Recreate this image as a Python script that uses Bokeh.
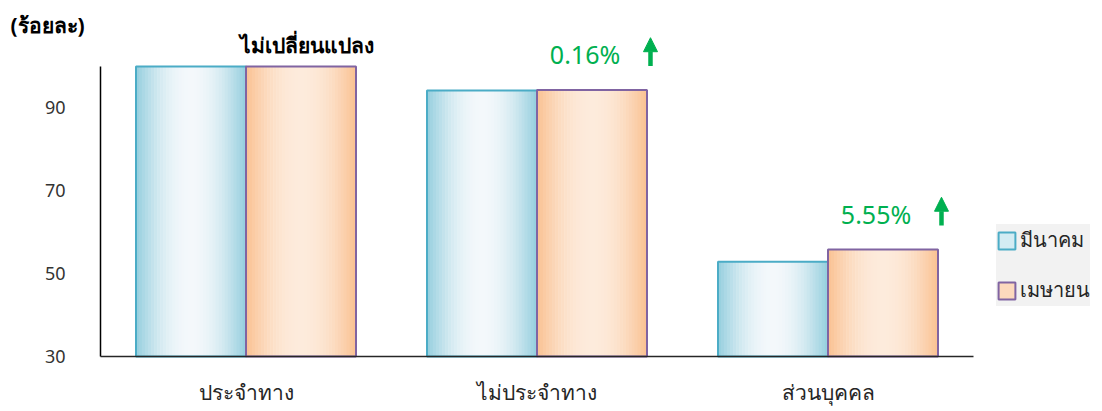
import numpy as np
from bokeh.plotting import figure
from bokeh.models import Range1d, Arrow, NormalHead, Legend, LegendItem
from bokeh.core.properties import value
from bokeh.embed import file_html
from bokeh.resources import INLINE

# ---- data ----
categories = ["ประจำทาง", "ไม่ประจำทาง", "ส่วนบุคคล"]
series_names = ["มีนาคม", "เมษายน"]
march = [100.0, 94.2, 52.9]
april = [100.0, 94.35, 55.84]
change_labels = ["ไม่เปลี่ยนแปลง", "0.16%", "5.55%"]
change_up = [False, True, True]
y_ticks = [30, 50, 70, 90]
y_axis_min, y_axis_max = 30, 100
unit_label = "(ร้อยละ)"

FONT = "Noto Sans"
GREEN = "#00B050"

W, H = 1100, 410
PX_X = 291.0          # pixels per category
PX_Y = 290.0 / 70.0   # pixels per y unit
AX_LEFT = 100         # pixel x of y axis
AX_BOTTOM = 356       # pixel y of x axis

x_start = -AX_LEFT / PX_X
x_end = (W - AX_LEFT) / PX_X
y_start = y_axis_min - (H - AX_BOTTOM) / PX_Y
y_end = y_axis_min + AX_BOTTOM / PX_Y

p = figure(width=W, height=H, output_backend="svg", toolbar_location=None,
           x_range=Range1d(x_start, x_end), y_range=Range1d(y_start, y_end),
           x_axis_location=None, y_axis_location=None,
           min_border_left=0, min_border_right=0, min_border_top=0,
           min_border_bottom=0)
p.outline_line_color = None
p.xgrid.visible = False
p.ygrid.visible = False
p.background_fill_color = "white"
p.border_fill_color = "white"


def hex2rgb(h):
    h = h.lstrip("#")
    return np.array([int(h[i:i + 2], 16) for i in (0, 2, 4)], dtype=float)


def blend(c1, c2, f):
    a, b = hex2rgb(c1), hex2rgb(c2)
    c = a + (b - a) * f
    return "#%02x%02x%02x" % tuple(int(round(v)) for v in c)


bar_w = 0.378
N = 36
styles = [
    (march, "#92CDDD", "#F4F8FB", "#4BACC6"),
    (april, "#FAC090", "#FDEBDC", "#8064A2"),
]

xs, tops, cols = [], [], []
for s, (vals, edge, mid, _) in enumerate(styles):
    for i, v in enumerate(vals):
        center = i + 0.5 + (s - 0.5) * bar_w
        left = center - bar_w / 2
        for k in range(N):
            t = (k + 0.5) / N
            f = np.sin(np.pi * t) ** 0.9
            xs.append(left + t * bar_w)
            tops.append(v)
            cols.append(blend(edge, mid, f))
p.vbar(x=xs, top=tops, bottom=y_axis_min, width=bar_w / N * 1.15,
       fill_color=cols, line_color=None)

for s, (vals, edge, mid, outline) in enumerate(styles):
    centers = [i + 0.5 + (s - 0.5) * bar_w for i in range(len(vals))]
    p.vbar(x=centers, top=vals, bottom=y_axis_min, width=bar_w,
           fill_color=None, line_color=outline, line_width=2)

# axes drawn by hand
p.segment(x0=[0], y0=[y_axis_min], x1=[0], y1=[y_axis_max],
          line_color="#000000", line_width=1.5)
p.segment(x0=[0], y0=[y_axis_min], x1=[len(categories)], y1=[y_axis_min],
          line_color="#262626", line_width=1.5)
p.text(x=[0] * len(y_ticks), y=y_ticks, text=[str(t) for t in y_ticks],
       x_offset=-35, text_align="right", text_baseline="middle",
       text_font=value(FONT), text_font_size="18px", text_color="#333333")
p.text(x=[i + 0.5 for i in range(len(categories))],
       y=[y_axis_min] * len(categories), text=categories, y_offset=35,
       text_align="center", text_baseline="middle", text_font=value(FONT),
       text_font_size="21px", text_color="#262626")
p.text(x=[0], y=[y_axis_max], text=[unit_label], x_offset=-53, y_offset=-42,
       text_align="center", text_baseline="middle", text_font=value(FONT),
       text_font_size="21px", text_font_style="bold", text_color="#000000")

# annotations
for i, (lab, up) in enumerate(zip(change_labels, change_up)):
    v = april[i]
    if not up:
        p.text(x=[i + 0.5 + 0.21], y=[v + 5.1], text=[lab],
               text_align="center", text_baseline="middle",
               text_font=value(FONT), text_font_size="21px",
               text_font_style="bold", text_color="#000000")
    else:
        p.text(x=[i + 0.5 + 0.165], y=[v + 8.6], text=[lab],
               text_align="center", text_baseline="middle",
               text_font=value(FONT), text_font_size="25px",
               text_color=GREEN)
        p.add_layout(Arrow(end=NormalHead(size=14, fill_color=GREEN,
                                          line_color=GREEN, line_width=1),
                           x_start=i + 0.5 + 0.39, y_start=v + 5.8,
                           x_end=i + 0.5 + 0.39, y_end=v + 12.6,
                           line_color=GREEN, line_width=4.5))

# legend
r_m = p.vbar(x=[np.nan], top=[np.nan], width=0.1, fill_color="#d3ecf3",
             line_color="#4BACC6", line_width=2)
r_a = p.vbar(x=[np.nan], top=[np.nan], width=0.1, fill_color="#fcd9bd",
             line_color="#8064A2", line_width=2)
legend = Legend(items=[LegendItem(label=series_names[0], renderers=[r_m]),
                       LegendItem(label=series_names[1], renderers=[r_a])],
                location=(996, H - 306), background_fill_color="#f2f2f2",
                background_fill_alpha=1.0, border_line_color=None,
                label_text_font_size="20px", label_text_font=FONT,
                label_text_color="#262626",
                glyph_width=21, glyph_height=21, spacing=18, padding=12,
                label_standoff=3, margin=0)
p.add_layout(legend, "center")

open("out.html", "w").write(file_html(p, INLINE))
